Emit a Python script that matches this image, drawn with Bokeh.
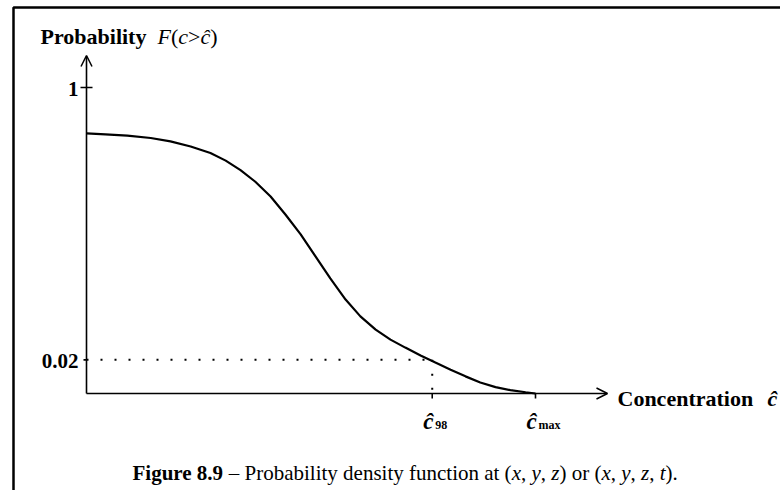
from bokeh.plotting import figure
from bokeh.models import Range1d, Arrow, OpenHead
from bokeh.core.properties import value
from bokeh.embed import file_html
from bokeh.resources import INLINE

# ---- data (schematic units) ----
conc = [0.0, 0.042, 0.091, 0.143, 0.187, 0.232, 0.276, 0.310, 0.343, 0.376,
        0.410, 0.443, 0.477, 0.510, 0.543, 0.577, 0.610, 0.644, 0.677, 0.710,
        0.744, 0.777, 0.811, 0.844, 0.877, 0.911, 0.944, 0.978, 1.0]
prob = [0.850, 0.847, 0.843, 0.835, 0.824, 0.807, 0.786, 0.761, 0.730, 0.692,
        0.644, 0.585, 0.520, 0.448, 0.376, 0.307, 0.252, 0.209, 0.176, 0.150,
        0.124, 0.101, 0.078, 0.056, 0.036, 0.021, 0.011, 0.004, 0.0]
y_tick_pos = [0.11, 1.0]
y_tick_labels = ["0.02", "1"]
x_tick_pos = [0.77, 1.0]
x_tick_subs = ["98", "max"]
c98 = 0.77
level98 = 0.11

W, H = 780, 490
OX, OY = 86, 393      # pixel of the origin
SX, SY = 449.0, 306.0  # pixels per data unit


def fx(px):
    return (px - OX) / SX


def fy(py):
    return (OY - py) / SY


FONT = value("Liberation Serif")

p = figure(width=W, height=H, output_backend="svg", toolbar_location=None,
           x_range=Range1d(fx(0), fx(W)), y_range=Range1d(fy(H), fy(0)),
           x_axis_location=None, y_axis_location=None, min_border=0,
           outline_line_color=None, background_fill_color="white",
           border_fill_color="white")
p.grid.visible = False

# outer frame (top & left)
p.line([fx(13), fx(13), fx(820)], [fy(520), fy(7), fy(7)],
       line_color="black", line_width=2.5)

# axes with arrows
p.add_layout(Arrow(end=OpenHead(size=11, line_width=1.5, line_color="black"),
                   x_start=0, y_start=0, x_end=0, y_end=fy(55),
                   line_width=1.6, line_color="black"))
p.add_layout(Arrow(end=OpenHead(size=11, line_width=1.5, line_color="black"),
                   x_start=0, y_start=0, x_end=fx(607), y_end=0,
                   line_width=1.6, line_color="black"))

# y ticks
for t, lab in zip(y_tick_pos, y_tick_labels):
    left = 6 if lab == "1" else 3
    right = 6 if lab == "1" else 0
    p.line([-left / SX, right / SX], [t, t], line_color="black", line_width=1.6)
    p.text(x=[0], y=[t], text=[lab], x_offset=-8, y_offset=1,
           text_font=FONT, text_font_style="bold", text_font_size="21px",
           text_align="right", text_baseline="middle", text_color="black")

# x ticks
for t, sub in zip(x_tick_pos, x_tick_subs):
    p.line([t, t], [0, -5 / SY], line_color="black", line_width=1.6)
    p.text(x=[t], y=[0], text=["ĉ"], x_offset=-4, y_offset=28,
           text_font=FONT, text_font_style="bold italic", text_font_size="23px",
           text_align="center", text_baseline="alphabetic", text_color="black")
    p.text(x=[t], y=[0], text=[sub], x_offset=3, y_offset=31,
           text_font=FONT, text_font_style="bold", text_font_size="12px",
           text_align="left", text_baseline="alphabetic", text_color="black")

# dotted guide lines at the 98th percentile
p.line([0, c98], [level98, level98], line_color="black", line_width=2,
       line_dash="2 12")
p.line([c98, c98], [level98, 0], line_color="black", line_width=2,
       line_dash="2 12")

# the curve
p.line(conc, prob, line_color="black", line_width=2.2)

# ---- text runs with Times metrics ----
ROMAN = {' ': 250, '(': 333, ')': 333, ',': 250, '.': 250, '–': 500, '>': 564,
         'P': 556, 'r': 333, 'o': 500, 'b': 500, 'a': 444, 'i': 278, 'l': 278,
         't': 278, 'y': 500, 'd': 500, 'e': 444, 'n': 500, 's': 389, 'u': 500,
         'f': 333, 'c': 444}
ITALIC = {'x': 444, 'y': 444, 'z': 389, 't': 278, 'F': 611, 'c': 444, 'ĉ': 444,
          ' ': 250}
BOLD = {'F': 611, 'i': 278, 'g': 500, 'u': 556, 'r': 444, 'e': 444, ' ': 250,
        '8': 500, '.': 250, '9': 500, 'P': 611, 'o': 500, 'b': 556, 'a': 500,
        'l': 278, 't': 333, 'y': 500, 'C': 722, 'n': 556, 'c': 444}
TABLES = {"normal": ROMAN, "italic": ITALIC, "bold": BOLD, "bold italic": ITALIC}


def tw(text, style, size):
    tab = TABLES[style]
    return sum(tab.get(ch, 500) for ch in text) * size / 1000.0


def runs(px, py, parts, size):
    off = 0.0
    for text, style in parts:
        p.text(x=[fx(px)], y=[fy(py)], text=[text.replace(" ", "\u00a0")],
               x_offset=off, text_font=FONT, text_font_style=style,
               text_font_size=f"{size}px", text_align="left",
               text_baseline="alphabetic", text_color="black")
        off += tw(text, style, size)


# y-axis title
runs(40, 36, [("Probability", "bold")], 22)
runs(157, 36, [("F", "italic"), ("(", "normal"), ("c", "italic"),
               (">", "normal"), ("ĉ", "italic"), (")", "normal")], 22)

# x-axis title
runs(617, 398, [("Concentration", "bold")], 22)
runs(767, 398, [("ĉ", "bold italic")], 22)

# caption
caption = [("Figure 8.9", "bold"), (" – Probability density function at (", "normal"),
           ("x", "italic"), (", ", "normal"), ("y", "italic"), (", ", "normal"),
           ("z", "italic"), (") or (", "normal"), ("x", "italic"), (", ", "normal"),
           ("y", "italic"), (", ", "normal"), ("z", "italic"), (", ", "normal"),
           ("t", "italic"), (").", "normal")]
runs(132, 472, caption, 21)

open("out.html", "w").write(file_html(p, INLINE))
